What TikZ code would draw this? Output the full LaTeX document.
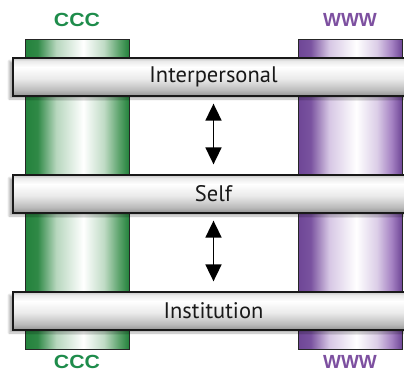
\documentclass[tikz,border=0pt]{standalone}
\usepackage{fontspec}
\usetikzlibrary{arrows.meta,shadows.blur,calc}
\newfontfamily\barfont{PT Sans}
\newfontfamily\headfont{Liberation Sans}

\definecolor{cccgreen}{RGB}{30,140,75}
\definecolor{wwwpurple}{RGB}{125,80,160}
\definecolor{gdark}{RGB}{35,130,60}
\definecolor{gmid}{RGB}{95,165,110}
\definecolor{pdark}{RGB}{110,70,150}
\definecolor{pmid}{RGB}{165,130,195}

% pillars: dark edges, bright centre slightly right of middle
\pgfdeclarehorizontalshading{greenpillar}{100bp}{
  color(0bp)=(gdark); color(25bp)=(gdark); color(31bp)=(gdark!80!gmid);
  color(40bp)=(white!55!gmid); color(53bp)=(white); color(63bp)=(white!60!gmid);
  color(70bp)=(gmid); color(75bp)=(gdark); color(100bp)=(gdark)}
\pgfdeclarehorizontalshading{purplepillar}{100bp}{
  color(0bp)=(pdark); color(25bp)=(pdark); color(31bp)=(pdark!80!pmid);
  color(40bp)=(white!55!pmid); color(53bp)=(white); color(63bp)=(white!60!pmid);
  color(70bp)=(pmid); color(75bp)=(pdark); color(100bp)=(pdark)}
% horizontal bars: bright upper part, darker towards the bottom
\pgfdeclareverticalshading{barshade}{100bp}{
  color(0bp)=(black!42); color(25bp)=(black!42); color(33bp)=(black!26);
  color(48bp)=(black!8); color(63bp)=(white); color(71bp)=(black!8);
  color(75bp)=(black!22); color(100bp)=(black!22)}

\tikzset{
  pillar/.style={draw=black!85, line width=0.9pt, minimum width=104pt,
    minimum height=310pt, inner sep=0pt},
  crossbar/.style={draw=black!90, line width=1.3pt, shading=barshade,
    minimum width=401pt, minimum height=38pt, inner sep=0pt,
    font=\barfont\fontsize{22.5}{26}\selectfont, text=black!90,
    blur shadow={shadow xshift=-4pt, shadow yshift=-3pt,
      shadow blur steps=8, shadow opacity=30}},
  head/.style={font=\headfont\bfseries\fontsize{19}{21}\selectfont},
  dblarrow/.style={line width=1.8pt,
    {Triangle[length=17pt,width=16pt]}-{Triangle[length=17pt,width=16pt]}}
}

\begin{document}
\begin{tikzpicture}[x=1pt,y=-1pt]
  \useasboundingbox (0,0) rectangle (404,373);

  % vertical pillars behind the bars
  \node[pillar, shading=greenpillar] (green) at (77,194) {};
  \node[pillar, shading=purplepillar] (purple) at (350,194) {};

  % pillar labels
  \node[head, text=cccgreen, xscale=1.12] (ccctop) at (77,20) {CCC};
  \node[head, text=cccgreen, xscale=1.12] (cccbot) at (77,362) {CCC};
  \node[head, text=wwwpurple] (wwwtop) at (350,20) {WWW};
  \node[head, text=wwwpurple] (wwwbot) at (350,362) {WWW};

  % horizontal bars
  \node[crossbar] (inter) at (213.5,77) {Interpersonal};
  \node[crossbar] (self) at (213.5,194) {Self};
  \node[crossbar] (inst) at (213.5,311) {Institution};

  % links between the levels
  \draw[dblarrow, shorten <=7pt, shorten >=10pt] (inter.south) -- (self.north);
  \draw[dblarrow, shorten <=7pt, shorten >=10pt] (self.south) -- (inst.north);
\end{tikzpicture}
\end{document}
